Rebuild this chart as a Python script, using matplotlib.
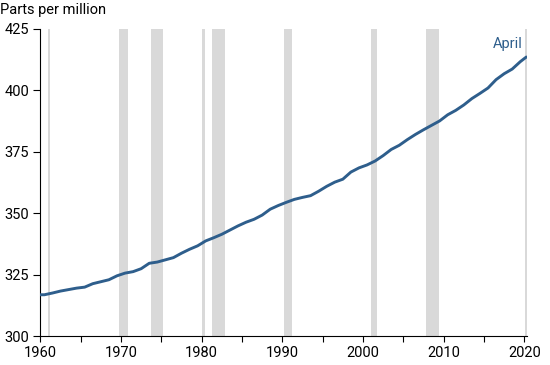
import matplotlib
matplotlib.use("Agg")
import matplotlib.pyplot as plt

plt.rcParams['font.family'] = ['Roboto', 'DejaVu Sans']

# CO2 readings (seasonally adjusted), ppm, read at mid-year
years = [1960.0, 1960.5, 1961.5, 1962.5, 1963.5, 1964.5, 1965.5, 1966.5, 1967.5, 1968.5,
         1969.5, 1970.5, 1971.5, 1972.5, 1973.5, 1974.5, 1975.5, 1976.5, 1977.5, 1978.5,
         1979.5, 1980.5, 1981.5, 1982.5, 1983.5, 1984.5, 1985.5, 1986.5, 1987.5, 1988.5,
         1989.5, 1990.5, 1991.5, 1992.5, 1993.5, 1994.5, 1995.5, 1996.5, 1997.5, 1998.5,
         1999.5, 2000.5, 2001.5, 2002.5, 2003.5, 2004.5, 2005.5, 2006.5, 2007.5, 2008.5,
         2009.5, 2010.5, 2011.5, 2012.5, 2013.5, 2014.5, 2015.5, 2016.5, 2017.5, 2018.5,
         2019.5, 2020.25]
ppm = [316.9, 316.9, 317.6, 318.4, 319.0, 319.6, 320.0, 321.4, 322.2, 323.0,
       324.6, 325.7, 326.3, 327.5, 329.7, 330.2, 331.1, 332.0, 333.8, 335.4,
       336.8, 338.8, 340.1, 341.5, 343.2, 344.9, 346.4, 347.6, 349.3, 351.7,
       353.2, 354.5, 355.7, 356.5, 357.2, 359.0, 361.0, 362.7, 363.9, 366.8,
       368.5, 369.7, 371.3, 373.5, 376.0, 377.7, 380.0, 382.1, 384.0, 385.8,
       387.6, 390.1, 391.9, 394.1, 396.7, 398.8, 401.0, 404.4, 406.8, 408.7,
       411.7, 413.6]

# recession periods (start, end) in fractional years
rec_start = [1960.95, 1969.76, 1973.72, 1980.04, 1981.29, 1990.2, 2001.0, 2007.8, 2020.08]
rec_end = [1961.17, 1970.87, 1975.21, 1980.41, 1982.9, 1991.2, 2001.74, 2009.43, 2020.3]

xticks = list(range(1960, 2021, 5))
xlabels = [str(y) if y % 10 == 0 else '' for y in xticks]
yticks = [300, 325, 350, 375, 400, 425]

line_color = '#2e5e8c'

fig = plt.figure(figsize=(5.5, 3.65), dpi=100)
ax = fig.add_axes([0.0733, 0.0786, 0.8844, 0.842])

for s, e in zip(rec_start, rec_end):
    ax.axvspan(s, e, color='#d9d9d9', lw=0, zorder=0)

ax.plot(years, ppm, color=line_color, lw=2.1, solid_capstyle='round', zorder=3)

ax.set_xlim(1960, 2020.3)
ax.set_ylim(300, 425)
ax.set_xticks(xticks)
ax.set_xticklabels(xlabels)
ax.set_yticks(yticks)

for side in ['top', 'right']:
    ax.spines[side].set_visible(False)
for side in ['left', 'bottom']:
    ax.spines[side].set_linewidth(0.8)
ax.tick_params(axis='x', length=4, width=0.8, pad=3, labelsize=10.5)
ax.tick_params(axis='y', length=5, width=0.8, pad=3, labelsize=10.5)

ax.text(2019.8, 416.0, 'April', color=line_color, fontsize=10.5, ha='right', va='bottom')
fig.text(0.0, 0.972, 'Parts per million', fontsize=10.5, ha='left', va='center')

fig.savefig('out.png', dpi=100)
